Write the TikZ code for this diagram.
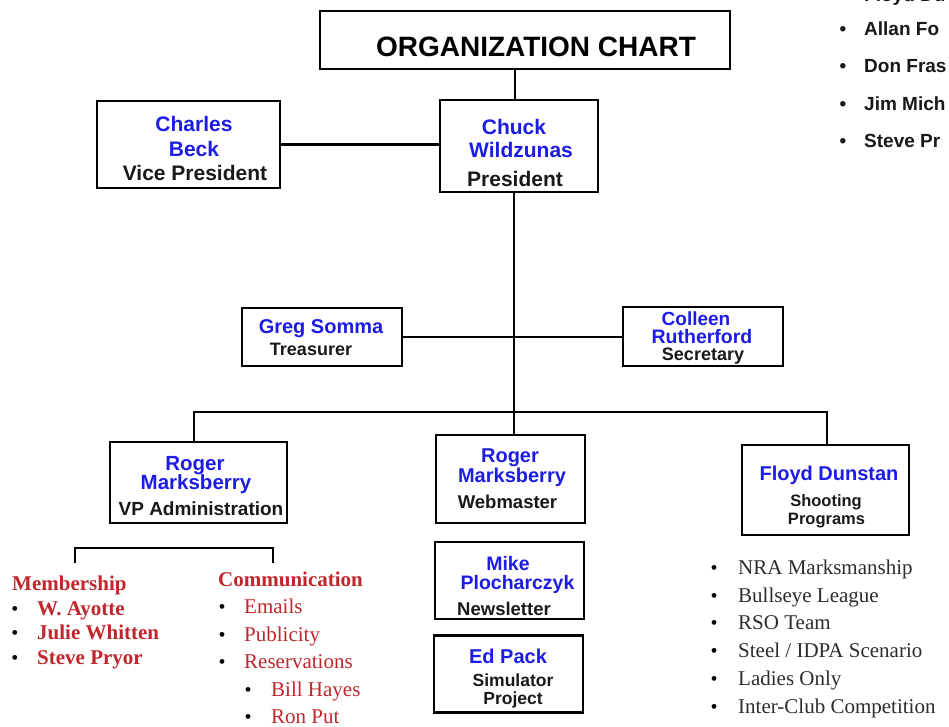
\documentclass[tikz,border=0pt]{standalone}
\usepackage{fontspec}
\setmainfont{Liberation Serif}
\newfontfamily\orgsans{Liberation Sans}
\definecolor{namecol}{RGB}{28,28,228}
\definecolor{redcol}{RGB}{192,38,44}
\definecolor{rolecol}{RGB}{25,25,25}
\definecolor{listcol}{RGB}{45,45,45}
\newcommand\fsz[1]{\fontsize{#1}{#1}\selectfont}
\begin{document}
\begin{tikzpicture}[x=1pt,y=-1pt,
  box/.style={draw=black, line width=2.7pt, inner sep=0pt, rectangle},
  wire/.style={draw=black, line width=2.4pt},
  nm/.style={anchor=base, inner sep=0pt, text=namecol, font=\orgsans\bfseries\fsz{#1}},
  role/.style={anchor=base, inner sep=0pt, text=rolecol, font=\orgsans\bfseries\fsz{#1}},
  bul/.style={anchor=base, inner sep=0pt, text=black, font=\fsz{#1}},
  redb/.style={anchor=base west, inner sep=0pt, text=redcol, font=\bfseries\fsz{#1}},
  redr/.style={anchor=base west, inner sep=0pt, text=redcol, font=\fsz{#1}},
  prog/.style={anchor=base west, inner sep=0pt, text=listcol, font=\fsz{#1}},
  topr/.style={anchor=base west, inner sep=0pt, overlay, text=rolecol, font=\orgsans\bfseries\fsz{#1}},
  topb/.style={anchor=base, inner sep=0pt, text=rolecol, font=\orgsans\bfseries\fsz{#1}}]
\useasboundingbox (0,0) rectangle (949,727);
\clip (0,0) rectangle (949,727);
\fill[white] (0,0) rectangle (949,727);

% boxes
\node[box, minimum width=410pt, minimum height=58pt] (title) at (525,40) {};
\node[box, minimum width=183pt, minimum height=87pt] (cb) at (188.5,144.5) {};
\node[box, minimum width=158pt, minimum height=92pt] (cw) at (519,146) {};
\node[box, minimum width=160pt, minimum height=58pt] (gs) at (322,337) {};
\node[box, minimum width=160pt, minimum height=59pt] (cr) at (703,336.5) {};
\node[box, minimum width=177pt, minimum height=81pt] (rv) at (198.5,482.5) {};
\node[box, minimum width=149pt, minimum height=88pt] (rw) at (510.5,479) {};
\node[box, minimum width=149pt, minimum height=77pt] (mp) at (509.5,580.5) {};
\node[box, minimum width=149pt, minimum height=77pt] (ep) at (508.5,674) {};
\node[box, minimum width=167pt, minimum height=90pt] (fd) at (825.5,490) {};

% connectors
\coordinate (tv) at (515,0);
\coordinate (hub) at (514,412);
\coordinate (bl) at (194,412);
\coordinate (br) at (827,412);
\coordinate (bka) at (75,563);
\coordinate (bkb) at (273,563);
\draw[wire] (title.south -| tv) -- (cw.north -| tv);
\draw[wire] (cb.east) -- (cb.east -| cw.west);
\draw[wire] (cw.south -| hub) -- (hub);
\draw[wire] (gs.east) -- (gs.east -| cr.west);
\draw[wire] (rv.north -| bl) -- (bl) -- (br) -- (fd.north -| br);
\draw[wire] (hub) -- (rw.north -| hub);
\draw[wire, line width=2.2pt] (bka) -- ++(0,-15) -| (bkb);

% title
\node[anchor=base, inner sep=0pt, text=black, font=\orgsans\bfseries\fsz{28}] (titletext) at (536,57) {ORGANIZATION CHART};

% Charles Beck
\node[nm=21] (cbA) at (194,132) {Charles};
\node[nm=21] (cbB) at (194,157) {Beck};
\node[role=21] (cbC) at (195,181) {Vice President};
% Chuck Wildzunas
\node[nm=21] (cwA) at (514,135) {Chuck};
\node[nm=21] (cwB) at (521,158) {Wildzunas};
\node[role=21] (cwC) at (515,187) {President};
% Greg Somma
\node[nm=20] (gsA) at (321,333) {Greg Somma};
\node[role=18] (gsB) at (311,355) {Treasurer};
% Colleen Rutherford
\node[nm=19] (crA) at (696,325) {Colleen};
\node[nm=19.5] (crB) at (702,343) {Rutherford};
\node[role=18] (crC) at (703,360) {Secretary};
% Roger VP
\node[nm=20.5] (rvA) at (195,470) {Roger};
\node[nm=20.5] (rvB) at (196,489) {Marksberry};
\node[role=19] (rvC) at (201,515) {VP Administration};
% Roger Web
\node[nm=20] (rwA) at (510,462) {Roger};
\node[nm=20] (rwB) at (512,482) {Marksberry};
\node[role=18.5] (rwC) at (507.5,508) {Webmaster};
% Mike
\node[nm=19.5] (mpA) at (508,570) {Mike};
\node[nm=19.5] (mpB) at (517.5,589) {Plocharczyk};
\node[role=18.5] (mpC) at (504,615) {Newsletter};
% Ed Pack
\node[nm=20] (epA) at (508,663) {Ed Pack};
\node[role=17.5] (epB) at (513,686) {Simulator};
\node[role=17.5] (epC) at (513,704) {Project};
% Floyd
\node[nm=20] (fdA) at (829,480) {Floyd Dunstan};
\node[role=16.5] (fdB) at (826,506) {Shooting};
\node[role=16.5] (fdC) at (826.5,524) {Programs};

% Membership
\node[redb=21] (mA) at (12,590) {Membership};
\node[bul=20] (mbA) at (15,615) {•};
\node[redb=21] (mB) at (37,615) {W. Ayotte};
\node[bul=20] (mbB) at (15,639) {•};
\node[redb=21] (mC) at (37,639) {Julie Whitten};
\node[bul=20] (mbC) at (15,664) {•};
\node[redb=21] (mD) at (37,664) {Steve Pryor};

% Communication
\node[redb=21] (cA) at (218,586) {Communication};
\node[bul=20] (cbuA) at (222,613) {•};
\node[redr=21] (cB) at (244,613) {Emails};
\node[bul=20] (cbuB) at (222,641) {•};
\node[redr=21] (cC) at (244,641) {Publicity};
\node[bul=20] (cbuC) at (222,668) {•};
\node[redr=21] (cD) at (244,668) {Reservations};
\node[bul=20] (cbuD) at (248,696) {•};
\node[redr=21] (cE) at (271,696) {Bill Hayes};
\node[bul=20] (cbuE) at (248,723) {•};
\node[redr=21] (cF) at (271,723) {Ron Put};

% Shooting programs
\node[bul=20] (pbA) at (714,574) {•};
\node[prog=21] (pA) at (738,574) {NRA Marksmanship};
\node[bul=20] (pbB) at (714,602) {•};
\node[prog=21] (pB) at (738,602) {Bullseye League};
\node[bul=20] (pbC) at (714,629.5) {•};
\node[prog=21] (pC) at (738,629.5) {RSO Team};
\node[bul=20] (pbD) at (714,657) {•};
\node[prog=21] (pD) at (738,657) {Steel / IDPA Scenario};
\node[bul=20] (pbE) at (714,685) {•};
\node[prog=21] (pE) at (738,685) {Ladies Only};
\node[bul=20] (pbF) at (714,713) {•};
\node[prog=21] (pF) at (738,713) {Inter-Club Competition};

% top-right list (cut by the page edge)
\node[topr=19] (tA) at (864,2) {Floyd Du};
\node[topb=19] (tbB) at (843,36) {•};
\node[topr=19] (tB) at (864,36) {Allan Fo};
\node[topb=19] (tbC) at (843,73) {•};
\node[topr=19] (tC) at (864,73) {Don Fras};
\node[topb=19] (tbD) at (843,111) {•};
\node[topr=19] (tD) at (864,111) {Jim Mich};
\node[topb=19] (tbE) at (843,148) {•};
\node[topr=19] (tE) at (864,148) {Steve Pr};
\end{tikzpicture}
\end{document}
